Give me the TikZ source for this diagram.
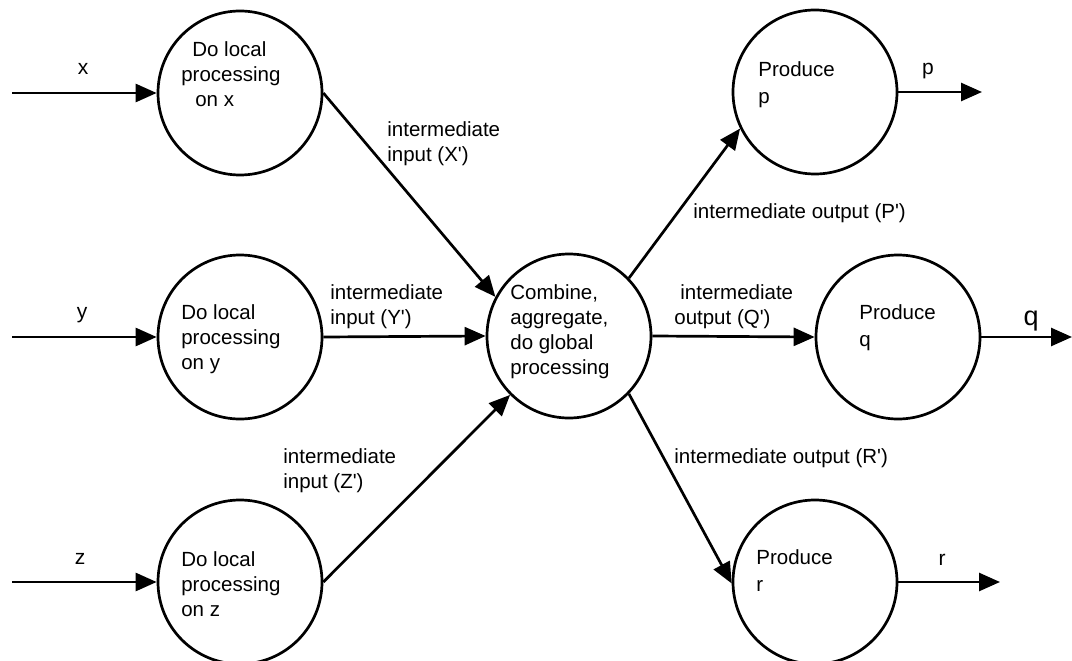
\documentclass[tikz,border=0pt]{standalone}
\usepackage{fontspec}
\setmainfont{Liberation Sans}[Ligatures=TeXOff]
\usetikzlibrary{arrows.meta}
\begin{document}
\begin{tikzpicture}[x=1pt,y=-1pt,line width=2.7pt,
  proc/.style={circle,draw,minimum size=164pt,inner sep=0pt},
  txt/.style={anchor=north west,inner sep=0pt,align=left,font=\fontsize{20.5}{25}\selectfont},
  ptxt/.style={anchor=north west,inner sep=0pt,align=left,font=\fontsize{20.5}{27}\selectfont},
  lbl/.style={anchor=base,inner sep=0pt,font=\fontsize{21}{25}\selectfont},
  flow/.style={-{Triangle[length=21pt,width=18pt]}}]
\useasboundingbox (0,0) rectangle (1072,661);
% process circles
\node[proc] (A) at (240,93) {};
\node[proc] (B) at (240,337) {};
\node[proc] (C) at (240,582) {};
\node[proc] (M) at (569,336) {};
\node[proc] (P) at (815,92) {};
\node[proc] (Q) at (898,337) {};
\node[proc] (R) at (815,582) {};
% texts inside circles
\node[txt] (At) at (180,40.5) {\hspace*{11pt}Do local\\processing\\\hspace*{14pt}on x};
\node[txt] (Bt) at (180,303.5) {Do local\\processing\\on y};
\node[txt] (Ct) at (180,550.5) {Do local\\processing\\on z};
\node[txt] (Mt) at (509,283.5) {Combine,\\aggregate,\\do global\\processing};
\node[ptxt] (Pt) at (757,60.5) {Produce\\p};
\node[ptxt] (Qt) at (858,303.5) {Produce\\q};
\node[ptxt] (Rt) at (755,548.5) {Produce\\r};
% free ends
\coordinate (xin) at (12,93);
\coordinate (yin) at (12,337);
\coordinate (zin) at (12,582);
\coordinate (pout) at (982,92);
\coordinate (qout) at (1072,337);
\coordinate (rout) at (1000,582);
% connectors
\draw[flow] (xin) -- (A.west);
\draw[flow] (yin) -- (B.west);
\draw[flow] (zin) -- (C.west);
\draw[flow] (A.east) -- (M.152);
\draw[flow] (B.east) -- (M.west);
\draw[flow] (C.east) -- (M.225);
\draw[flow] (M.44) -- (P.206);
\draw[flow] (M.east) -- (Q.west);
\draw[flow] (M.316) -- (R.181);
\draw[flow] (P.east) -- (pout);
\draw[flow] (Q.east) -- (qout);
\draw[flow] (R.east) -- (rout);
% flow labels
\node[lbl] (xl) at (83,75) {x};
\node[lbl] (yl) at (82,318) {y};
\node[lbl] (zl) at (80,564) {z};
\node[lbl] (pl) at (928,75) {p};
\node[lbl,font=\fontsize{27}{30}\selectfont] (ql) at (1031,325) {q};
\node[lbl] (rl) at (942,565) {r};
\node[txt] (Xl) at (386,120.5) {intermediate\\input (X')};
\node[txt] (Yl) at (329,283.5) {intermediate\\input (Y')};
\node[txt] (Zl) at (282,447.5) {intermediate\\input (Z')};
\node[txt] (Pl) at (692,202.5) {intermediate output (P')};
\node[txt] (Ql) at (673,283.5) {\hspace*{6pt}intermediate\\output (Q')};
\node[txt] (Rl) at (673,447.5) {intermediate output (R')};
\end{tikzpicture}
\end{document}
